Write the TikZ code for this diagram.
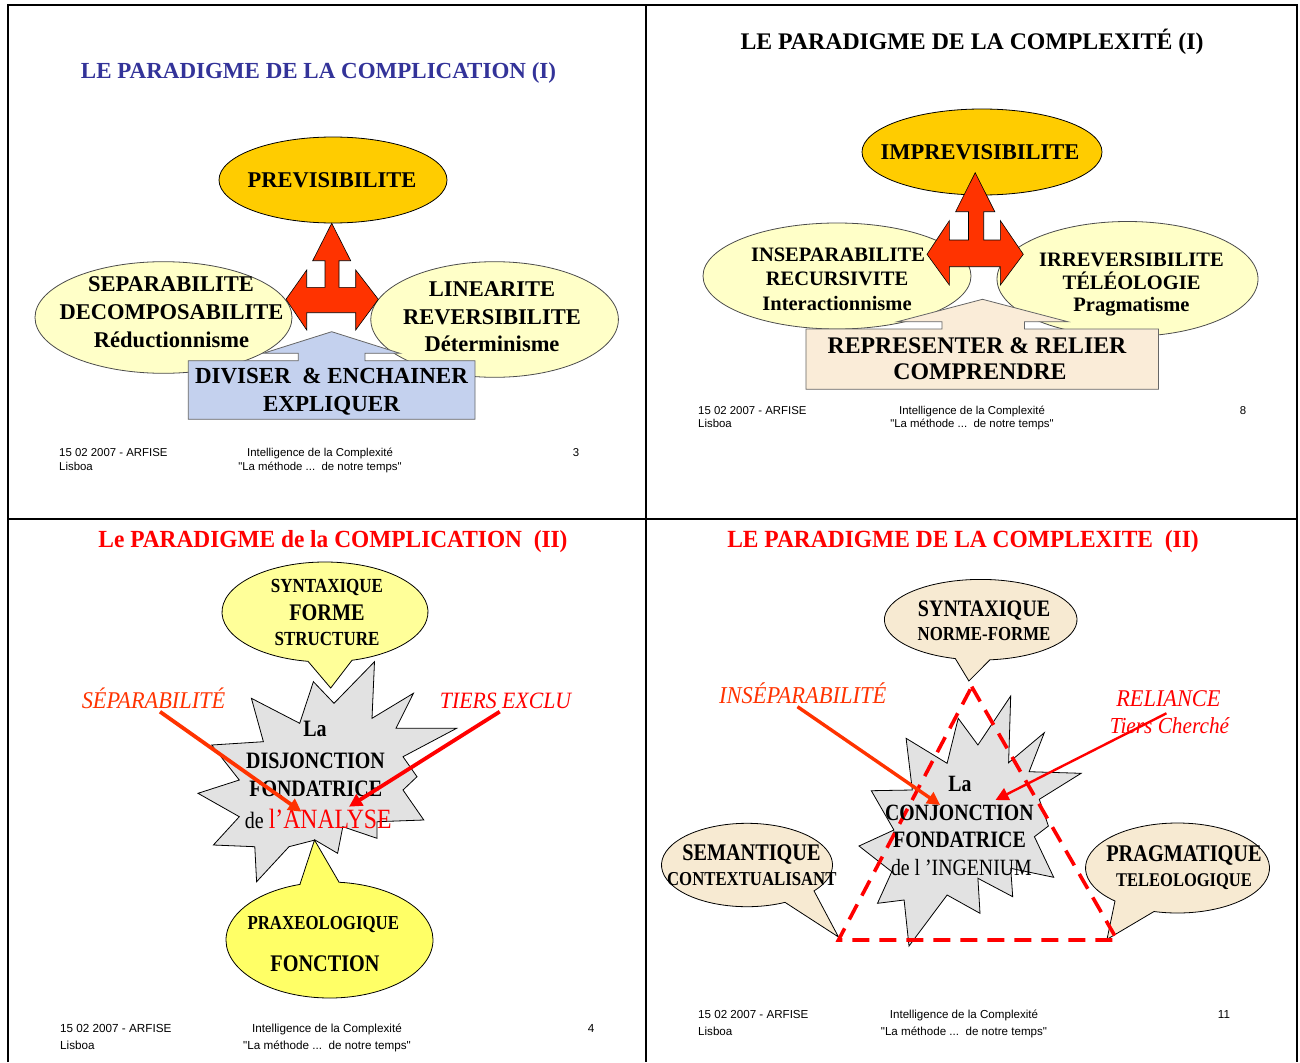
\documentclass[tikz,border=0pt]{standalone}
\usepackage{fontspec}
\setmainfont{Liberation Serif}
\newfontfamily\arialf{Liberation Sans}
\newfontfamily\condf[FakeStretch=0.85]{Liberation Serif}
\newfontfamily\titlef[FakeStretch=0.95]{Liberation Serif}
\newfontfamily\itf[FakeStretch=0.93]{Liberation Serif}
\usetikzlibrary{arrows.meta}
\definecolor{titleblue}{RGB}{51,51,153}
\definecolor{gold}{RGB}{255,204,0}
\definecolor{paleyellow}{RGB}{255,255,200}
\definecolor{arrowred}{RGB}{255,51,0}
\definecolor{boxblue}{RGB}{196,209,238}
\definecolor{boxbeige}{RGB}{250,236,216}
\definecolor{calloutyellow}{RGB}{255,255,153}
\definecolor{calloutyellowb}{RGB}{255,255,102}
\definecolor{stargray}{RGB}{226,226,226}
\definecolor{calloutbeige}{RGB}{247,234,210}
\definecolor{pured}{RGB}{255,0,0}
\newcommand{\fTB}[1]{\fontsize{#1}{#1}\selectfont\bfseries}
\newcommand{\fTT}[1]{\titlef\fontsize{#1}{#1}\selectfont\bfseries}
\newcommand{\fCB}[1]{\condf\fontsize{#1}{#1}\selectfont\bfseries}
\newcommand{\fCR}[1]{\condf\fontsize{#1}{#1}\selectfont}
\newcommand{\fIT}[1]{\itf\fontsize{#1}{#1}\selectfont\itshape}
\begin{document}
\begin{tikzpicture}[x=1pt,y=-1pt,
  shp/.style={draw=black, line width=0.8pt},
  lbl/.style={inner sep=0pt, anchor=base},
  foot/.style={inner sep=0pt, anchor=base, font=\arialf\fontsize{11.4}{13}\selectfont},
  footl/.style={foot, anchor=base west},
  frame/.style={line width=2.6pt, draw=black},
  redarrow/.style={fill=arrowred, draw=black, line width=0.6pt},
  pointer/.style={line width=3.8pt, -{Triangle[length=13pt,width=13pt]}},
  dashtri/.style={draw=pured, line width=3.6pt, dash pattern=on 17pt off 10pt}
]
\useasboundingbox (0,0) rectangle (1300,1062);
\fill[white] (0,0) rectangle (1300,1062);

% ================= PANEL 1 =================
\draw[shp, fill=paleyellow, draw=black!70] (163.5,317.5) ellipse [x radius=128.5, y radius=55.8];
\draw[shp, fill=paleyellow, draw=black!70] (494.6,319.5) ellipse [x radius=123.8, y radius=57.8];
\draw[shp, fill=gold] (333,180) ellipse [x radius=114, y radius=43];
\draw[shp, fill=boxblue, draw=black!60] (188.3,360.7) -- (298.3,360.7) -- (298.3,353.3) -- (263.3,353.3) -- (331.7,331.7) -- (400,353.3) -- (365,353.3) -- (365,360.7) -- (475,360.7) -- (475,419.3) -- (188.3,419.3) -- cycle;
\draw[redarrow] (331.7,223.3) -- (350.7,260.7) -- (339,260.7) -- (339,287.3) -- (355.7,287.3) -- (355.7,270) -- (378.3,299.3) -- (355.7,330) -- (355.7,312.7) -- (306.7,312.7) -- (306.7,330) -- (286,299.3) -- (306.7,270) -- (306.7,287.3) -- (325,287.3) -- (325,260.7) -- (312.7,260.7) -- cycle;

\node[lbl, font=\fTB{23}, text=titleblue] (t1) at (318.5,78.6) {LE PARADIGME DE LA COMPLICATION (I)};
\node[lbl, font=\fTB{22.5}] (prev) at (332,187.2) {PREVISIBILITE};
\node[lbl, font=\fTB{22.5}] (sep1) at (171,291.5) {SEPARABILITE};
\node[lbl, font=\fTB{22.5}] (dec1) at (171.5,319.7) {DECOMPOSABILITE};
\node[lbl, font=\fTB{22.5}] (red1) at (171.5,347) {Réductionnisme};
\node[lbl, font=\fTB{22.5}] (lin1) at (492,296.5) {LINEARITE};
\node[lbl, font=\fTB{22.5}] (rev1) at (492,324.3) {REVERSIBILITE};
\node[lbl, font=\fTB{22.5}] (det1) at (492,351.5) {Déterminisme};
\node[lbl, font=\fTB{23}] (div1) at (331.5,383.8) {DIVISER\ \ \& ENCHAINER};
\node[lbl, font=\fTB{23}] (exp1) at (331.5,411.6) {EXPLIQUER};
\node[footl] (fa1) at (59,456.8) {15 02 2007 - ARFISE};
\node[footl] (fb1) at (59,470.8) {Lisboa};
\node[foot] (fc1) at (320,456.8) {Intelligence de la Complexité};
\node[foot] (fd1) at (320,470.8) {"La méthode ...\ \ de notre temps"};
\node[foot] (fe1) at (576,456.8) {3};

% ================= PANEL 2 =================
\draw[shp, fill=gold] (982,152) ellipse [x radius=120, y radius=43];
\draw[shp, fill=paleyellow, draw=black!70] (837,276) ellipse [x radius=134, y radius=53];
\draw[shp, fill=paleyellow, draw=black!70] (1127.5,279) ellipse [x radius=130.5, y radius=57.5];
\draw[shp, fill=boxbeige, draw=black!60] (805.9,329) -- (941.9,329) -- (941.9,321.7) -- (897.4,321.7) -- (982.5,299.3) -- (1067.8,321.7) -- (1024.4,321.7) -- (1024.4,329) -- (1158.5,329) -- (1158.5,389.3) -- (805.9,389.3) -- cycle;
\draw[redarrow] (975.2,172.7) -- (994.8,211.7) -- (983.7,211.7) -- (983.7,240) -- (1000.4,240) -- (1000.4,220.7) -- (1023.3,254.3) -- (1000.4,285) -- (1000.4,266.7) -- (949.3,266.7) -- (949.3,285) -- (927,254.3) -- (949.3,220.7) -- (949.3,240) -- (968.5,240) -- (968.5,211.7) -- (955.6,211.7) -- cycle;

\node[lbl, font=\fTB{23.8}] (t2) at (972,49.5) {LE PARADIGME DE LA COMPLEXITÉ (I)};
\node[lbl, font=\fTB{22.5}] (imp2) at (980,159.5) {IMPREVISIBILITE};
\node[lbl, font=\fTB{20.5}] (ins2) at (838,261.8) {INSEPARABILITE};
\node[lbl, font=\fTB{20.5}] (rec2) at (837,285.5) {RECURSIVITE};
\node[lbl, font=\fTB{20.5}] (int2) at (837,310.5) {Interactionnisme};
\node[lbl, font=\fTB{20.5}] (irr2) at (1131.5,266) {IRREVERSIBILITE};
\node[lbl, font=\fTB{20.5}] (tel2) at (1131.5,289.5) {TÉLÉOLOGIE};
\node[lbl, font=\fTB{20.5}] (pra2) at (1131.5,311.8) {Pragmatisme};
\node[lbl, font=\fTB{23.8}] (rep2) at (977,353) {REPRESENTER \& RELIER};
\node[lbl, font=\fTB{23.8}] (com2) at (980,379.6) {COMPRENDRE};
\node[footl] (fa2) at (698,414) {15 02 2007 - ARFISE};
\node[footl] (fb2) at (698,427) {Lisboa};
\node[foot] (fc2) at (972,414) {Intelligence de la Complexité};
\node[foot] (fd2) at (972,427) {"La méthode ...\ \ de notre temps"};
\node[foot] (fe2) at (1243,414) {8};

% ================= PANEL 3 =================
\draw[shp, fill=stargray] (374.5,661.7) -- (372,718.3) -- (413.4,693.3) -- (396,728.3) -- (456.6,728.3) -- (403,756.7) -- (417,776.7) -- (403,790) -- (423.8,820) -- (377,821.7) -- (377,838.3) -- (342.8,826.7) -- (337.6,853.3) -- (315,840) -- (289,846.7) -- (256.6,881.7) -- (254.8,846.7) -- (213.4,845) -- (239.3,816.7) -- (198,793.3) -- (239.3,780) -- (211.7,745) -- (263.4,741.7) -- (251.4,698.3) -- (299.7,723.3) -- (313.4,681.7) -- (334,703.3) -- cycle;
\draw[shp, fill=calloutyellow] (325,612) ++(99.5:103 and 50) arc[start angle=99.5, end angle=434.8, x radius=103, y radius=50] -- (330.7,688) -- cycle;
\draw[shp, fill=calloutyellowb] (329.5,940) ++(275.3:103.5 and 58) arc[start angle=275.3, end angle=613.4, x radius=103.5, y radius=58] -- (314.5,840) -- cycle;

\node[lbl, font=\fTT{24.6}, text=pured] (t3) at (333,547.3) {Le PARADIGME de la COMPLICATION\ \ (II)};
\node[lbl, font=\fCB{20}] (syn3) at (327,592.3) {SYNTAXIQUE};
\node[lbl, font=\fCB{23.8}] (for3) at (327,620) {FORME};
\node[lbl, font=\fCB{20}] (str3) at (327,645) {STRUCTURE};
\node[lbl, font=\fCB{23.5}] (la3) at (315,736.7) {La};
\node[lbl, font=\fCB{23.5}] (dis3) at (315.5,768.3) {DISJONCTION};
\node[lbl, font=\fCB{23.5}] (fon3) at (315.7,796.7) {FONDATRICE};
\node[lbl, font=\fCR{23.5}] (ana3) at (318.3,828.3) {de {\color{pured}\fontsize{27.9}{28}\selectfont l’ANALYSE}};
\node[lbl, font=\fCB{19.8}] (prx3) at (323.3,929.3) {PRAXEOLOGIQUE};
\node[lbl, font=\fCB{23.8}] (fct3) at (325,971.7) {FONCTION};
\node[lbl, font=\fIT{24}, text=arrowred] (sepl3) at (153.5,708.3) {SÉPARABILITÉ};
\node[lbl, font=\fIT{23.4}, text=pured] (tie3) at (505.5,708.3) {TIERS EXCLU};
\coordinate (sepS) at (160,711.7);
\coordinate (sepE) at (301.4,811.7);
\coordinate (tieS) at (499.7,711.7);
\coordinate (tieE) at (349,806.7);
\draw[pointer, draw=arrowred, fill=arrowred] (sepS) -- (sepE);
\draw[pointer, draw=pured, fill=pured] (tieS) -- (tieE);
\node[footl, font=\arialf\fontsize{11.7}{13}\selectfont] (fa3) at (60,1032) {15 02 2007 - ARFISE};
\node[footl, font=\arialf\fontsize{11.7}{13}\selectfont] (fb3) at (60,1049) {Lisboa};
\node[foot, font=\arialf\fontsize{11.7}{13}\selectfont] (fc3) at (327,1032) {Intelligence de la Complexité};
\node[foot, font=\arialf\fontsize{11.7}{13}\selectfont] (fd3) at (327,1049) {"La méthode ...\ \ de notre temps"};
\node[foot, font=\arialf\fontsize{11.7}{13}\selectfont] (fe3) at (591,1032) {4};

% ================= PANEL 4 =================
\draw[shp, fill=calloutbeige] (980.7,619.7) ++(105.3:96.3 and 40.3) arc[start angle=105.3, end angle=444.5, x radius=96.3, y radius=40.3] -- (968.9,681) -- cycle;
\draw[shp, fill=calloutbeige] (747,865) ++(63.6:85.5 and 41.7) arc[start angle=63.6, end angle=398.4, x radius=85.5, y radius=41.7] -- (838.5,937) -- cycle;
\draw[shp, fill=calloutbeige] (1177.5,868) ++(132.8:92 and 45) arc[start angle=132.8, end angle=464.8, x radius=92, y radius=45] -- (1107,939.3) -- cycle;
\draw[shp, fill=stargray] (1010.7,696) -- (1008.6,762.7) -- (1044.3,732.7) -- (1029.1,771.7) -- (1081.1,773.3) -- (1039.3,799.3) -- (1048.4,826) -- (1034.4,836.7) -- (1053.7,877.3) -- (1010.7,868.3) -- (1012.7,896.7) -- (977.9,878.3) -- (980,913.3) -- (947.1,895) -- (909,946) -- (904.1,900) -- (877.5,903.3) -- (891.8,871.7) -- (859,846) -- (893.9,830) -- (871.3,790.7) -- (912.3,790) -- (906.1,738.3) -- (947.1,763.3) -- (958.2,718.3) -- (977.9,745) -- cycle;
\coordinate (triA) at (971.7,686.7);
\coordinate (triB) at (838.5,940);
\coordinate (triC) at (1117.2,940);
\draw[dashtri] (triA) -- (triC) -- (triB) -- cycle;

\node[lbl, font=\fTT{24.7}, text=pured] (t4) at (963,547.3) {LE PARADIGME DE LA COMPLEXITE\ \ (II)};
\node[lbl, font=\fCB{23.6}] (syn4) at (984,616.7) {SYNTAXIQUE};
\node[lbl, font=\fCB{19.8}] (nor4) at (984,640.7) {NORME-FORME};
\node[lbl, font=\fIT{24.2}, text=arrowred] (ins4) at (802.7,703.3) {INSÉPARABILITÉ};
\node[lbl, font=\fIT{24}, text=pured] (rel4) at (1168.4,706) {RELIANCE};
\node[lbl, font=\fIT{22.9}, text=pured] (tc4) at (1169.5,733.3) {Tiers Cherché};
\node[lbl, font=\fCB{23.3}] (la4) at (960,791.7) {La};
\node[lbl, font=\fCB{23.3}] (con4) at (959.3,820) {CONJONCTION};
\node[lbl, font=\fCB{23.5}] (fon4) at (959.5,847.3) {FONDATRICE};
\node[lbl, font=\fCR{23.3}] (ing4) at (961.4,875) {de l ’INGENIUM};
\node[lbl, font=\fCB{23.8}] (sem4) at (751.4,860.7) {SEMANTIQUE};
\node[lbl, font=\fCB{19.7}] (ctx4) at (751.8,885) {CONTEXTUALISANT};
\node[lbl, font=\fCB{23.9}] (prg4) at (1184,861.7) {PRAGMATIQUE};
\node[lbl, font=\fCB{19.4}] (tel4) at (1184,886) {TELEOLOGIQUE};
\coordinate (insS) at (797.5,706.7);
\coordinate (insE) at (940.2,805);
\coordinate (relS) at (1166.4,713.3);
\coordinate (relE) at (995.5,800);
\draw[pointer, line width=3.4pt, draw=arrowred, fill=arrowred] (insS) -- (insE);
\draw[pointer, line width=2.4pt, draw=pured, fill=pured] (relS) -- (relE);
\node[footl, font=\arialf\fontsize{11.6}{13}\selectfont] (fa4) at (698,1018) {15 02 2007 - ARFISE};
\node[footl, font=\arialf\fontsize{11.6}{13}\selectfont] (fb4) at (698,1035) {Lisboa};
\node[foot, font=\arialf\fontsize{11.6}{13}\selectfont] (fc4) at (964,1018) {Intelligence de la Complexité};
\node[foot, font=\arialf\fontsize{11.6}{13}\selectfont] (fd4) at (964,1035) {"La méthode ...\ \ de notre temps"};
\node[foot, font=\arialf\fontsize{11.6}{13}\selectfont] (fe4) at (1224,1018) {11};

% ================= FRAME =================
\coordinate (fTL) at (7,5);
\coordinate (fTR) at (1297,5);
\coordinate (fBL) at (8,1062);
\coordinate (fBR) at (1297,1062);
\draw[frame] (8,1062) -- (8,5) -- (1297,5) -- (1297,1062);
\draw[frame] (646,5) -- (646,1062);
\draw[frame] (8,519) -- (1297,519);
\end{tikzpicture}
\end{document}
